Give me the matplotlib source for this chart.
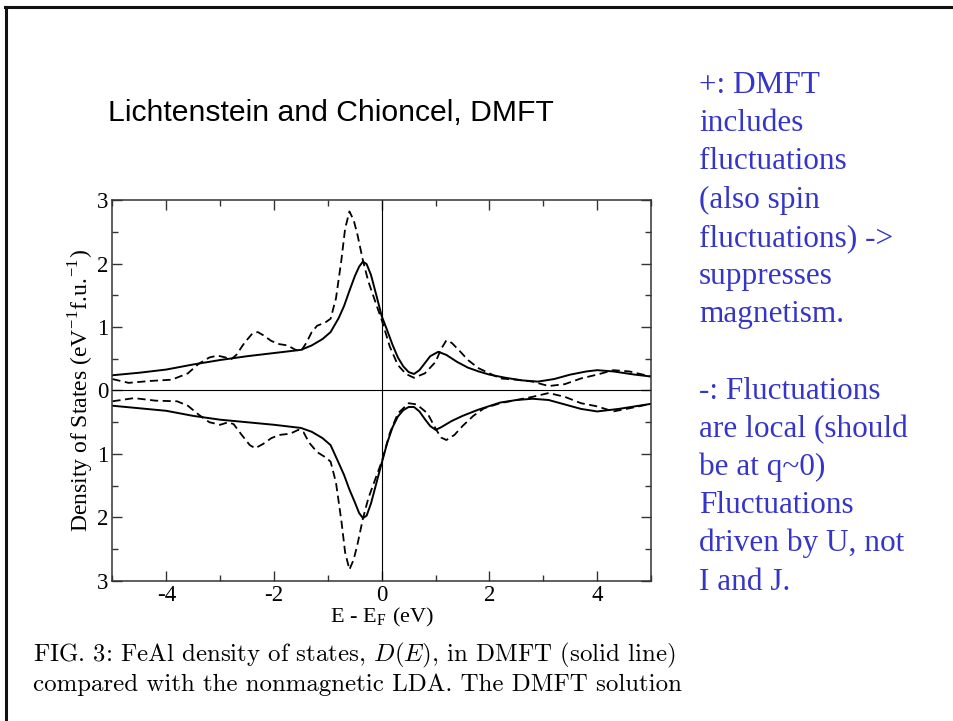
import matplotlib
matplotlib.use("Agg")
import matplotlib.pyplot as plt
from matplotlib.lines import Line2D
from matplotlib.ticker import MultipleLocator, FixedLocator, FixedFormatter

plt.rcParams["mathtext.fontset"] = "cm"
plt.rcParams["axes.unicode_minus"] = False

# ── data (spin-up positive, spin-down negative) ─────────────────────────────
E_dmft_up = [-5, -4.5, -4, -3.5, -3, -2.5, -2, -1.5, -1.3, -1.1, -0.95, -0.8, -0.7,
             -0.6, -0.5, -0.42, -0.35, -0.28, -0.2, -0.1, 0, 0.1, 0.2, 0.3, 0.4,
             0.5, 0.6, 0.7, 0.8, 0.9, 1.05, 1.2, 1.4, 1.6, 1.8, 2.0, 2.3, 2.6, 2.9,
             3.2, 3.5, 3.8, 4.0, 4.3, 4.7, 5]
D_dmft_up = [0.24, 0.28, 0.33, 0.41, 0.48, 0.54, 0.59, 0.64, 0.71, 0.81, 0.92, 1.14,
             1.33, 1.57, 1.80, 1.95, 2.03, 1.99, 1.82, 1.50, 1.17, 0.95, 0.72, 0.52,
             0.38, 0.29, 0.26, 0.32, 0.43, 0.54, 0.61, 0.56, 0.45, 0.36, 0.30, 0.25,
             0.20, 0.16, 0.14, 0.18, 0.25, 0.30, 0.32, 0.30, 0.25, 0.22]

E_lda_up = [-5, -4.7, -4.3, -3.9, -3.6, -3.4, -3.2, -3.05, -2.9, -2.8, -2.7, -2.55,
            -2.4, -2.3, -2.2, -2.05, -1.9, -1.75, -1.6, -1.5, -1.4, -1.3, -1.2, -1.05,
            -0.95, -0.85, -0.75, -0.68, -0.6, -0.52, -0.45, -0.35, -0.25, -0.1, 0,
            0.15, 0.3, 0.45, 0.6, 0.8, 1.0, 1.1, 1.2, 1.3, 1.45, 1.6, 1.8, 2.0, 2.2,
            2.5, 2.8, 3.1, 3.4, 3.7, 4.0, 4.3, 4.6, 5]
D_lda_up = [0.18, 0.12, 0.15, 0.17, 0.27, 0.42, 0.52, 0.55, 0.52, 0.49, 0.56, 0.75,
            0.90, 0.92, 0.87, 0.78, 0.73, 0.71, 0.64, 0.62, 0.75, 0.92, 1.02, 1.07,
            1.13, 1.45, 2.05, 2.55, 2.82, 2.68, 2.45, 2.05, 1.72, 1.35, 1.11, 0.69,
            0.40, 0.26, 0.20, 0.27, 0.45, 0.65, 0.79, 0.75, 0.62, 0.48, 0.35, 0.27,
            0.19, 0.17, 0.14, 0.07, 0.10, 0.19, 0.25, 0.32, 0.30, 0.22]

E_dmft_dn = [-5, -4.5, -4, -3.5, -3, -2.5, -2, -1.5, -1.3, -1.1, -0.95, -0.8, -0.7,
             -0.6, -0.5, -0.42, -0.35, -0.28, -0.2, -0.1, 0, 0.1, 0.2, 0.3, 0.4, 0.5,
             0.6, 0.7, 0.8, 0.9, 1.0, 1.1, 1.3, 1.5, 1.8, 2.2, 2.5, 2.8, 3.1, 3.4,
             3.7, 4.0, 4.4, 4.7, 5]
D_dmft_dn = [-0.24, -0.28, -0.32, -0.40, -0.46, -0.50, -0.54, -0.59, -0.65, -0.75,
             -0.86, -1.14, -1.33, -1.56, -1.76, -1.93, -2.01, -1.97, -1.78, -1.46,
             -1.14, -0.83, -0.58, -0.41, -0.31, -0.26, -0.26, -0.33, -0.45, -0.56,
             -0.62, -0.58, -0.48, -0.40, -0.30, -0.19, -0.15, -0.13, -0.15, -0.22,
             -0.29, -0.33, -0.29, -0.25, -0.21]

E_lda_dn = [-5, -4.6, -4.2, -3.8, -3.6, -3.4, -3.2, -3.0, -2.85, -2.75, -2.6, -2.45,
            -2.35, -2.2, -2.05, -1.9, -1.7, -1.55, -1.45, -1.35, -1.2, -1.05, -0.95,
            -0.85, -0.75, -0.68, -0.6, -0.52, -0.45, -0.35, -0.25, -0.1, 0, 0.15,
            0.3, 0.5, 0.65, 0.85, 1.0, 1.1, 1.2, 1.35, 1.5, 1.7, 1.9, 2.2, 2.5, 2.8,
            3.1, 3.4, 3.7, 4.0, 4.3, 4.6, 5]
D_lda_dn = [-0.17, -0.12, -0.16, -0.17, -0.24, -0.38, -0.50, -0.54, -0.50, -0.53,
            -0.70, -0.86, -0.91, -0.84, -0.75, -0.70, -0.68, -0.62, -0.66, -0.82,
            -0.97, -1.05, -1.12, -1.45, -2.05, -2.55, -2.82, -2.66, -2.42, -2.02,
            -1.70, -1.35, -1.12, -0.67, -0.36, -0.20, -0.22, -0.36, -0.60, -0.74,
            -0.78, -0.70, -0.56, -0.40, -0.28, -0.20, -0.15, -0.10, -0.04, -0.10,
            -0.20, -0.25, -0.33, -0.28, -0.21]

y_ticks = [-3, -2, -1, 0, 1, 2, 3]
y_tick_labels = ["3", "2", "1", "0", "1", "2", "3"]
x_ticks = [-4, -2, 0, 2, 4]

title_text = "Lichtenstein and Chioncel, DMFT"
note_lines = [
    "+: DMFT", "includes", "fluctuations", "(also spin", "fluctuations) ->",
    "suppresses", "magnetism.", "", "-: Fluctuations", "are local (should",
    "be at q~0)", "Fluctuations", "driven by U, not", "I and J.",
]
caption_lines = [
    r"FIG. 3: FeAl density of states, $D(E)$, in DMFT (solid line)",
    "compared with the nonmagnetic LDA. The DMFT solution",
]

SERIF = ["Liberation Serif", "DejaVu Serif"]
SANS = ["Liberation Sans", "DejaVu Sans"]
BLUE = "#3535c8"

fig = plt.figure(figsize=(9.54, 7.21), dpi=100)
ax = fig.add_axes([0.1179, 0.1942, 0.5645, 0.5284])

ax.plot(E_dmft_up, D_dmft_up, color="black", lw=1.4)
ax.plot(E_dmft_dn, D_dmft_dn, color="black", lw=1.4)
ax.plot(E_lda_up, D_lda_up, color="black", lw=1.3, ls=(0, (4.5, 2.5)))
ax.plot(E_lda_dn, D_lda_dn, color="black", lw=1.3, ls=(0, (4.5, 2.5)))
ax.axhline(0, color="black", lw=0.8)
ax.axvline(0, color="black", lw=0.8)

ax.set_xlim(-5, 5)
ax.set_ylim(-3, 3)
ax.xaxis.set_major_locator(FixedLocator(x_ticks))
ax.xaxis.set_minor_locator(MultipleLocator(1))
ax.yaxis.set_major_locator(FixedLocator(y_ticks))
ax.yaxis.set_major_formatter(FixedFormatter(y_tick_labels))
ax.yaxis.set_minor_locator(MultipleLocator(0.5))
ax.tick_params(which="both", direction="in", top=True, right=True,
               color="#333333", width=1.0)
ax.tick_params(which="major", length=7.5, labelsize=16.5, pad=3)
ax.tick_params(which="minor", length=4)
for lbl in ax.get_xticklabels() + ax.get_yticklabels():
    lbl.set_family(SERIF)
for sp in ax.spines.values():
    sp.set_color("#333333")
    sp.set_linewidth(1.1)

ax.set_xlabel(r"E - E$_\mathregular{F}$ (eV)", fontsize=16, family=SERIF, labelpad=0)
ax.set_ylabel(r"Density of States (eV$^\mathregular{-1}$f.u.$^\mathregular{-1}$)",
              fontsize=17, family=SERIF)
ax.yaxis.set_label_coords(-0.033, 0.5)

# slide title
fig.text(108 / 954, 1 - 121 / 721, title_text, fontsize=21.7, va="baseline",
         ha="left", family=SANS)

# blue bullet notes on the right
for i, line in enumerate(note_lines):
    fig.text(699 / 954, 1 - (93 + 38.2 * i) / 721, line, fontsize=22.5, color=BLUE,
             va="baseline", ha="left", family=SERIF)

# paper caption under the plot
for i, line in enumerate(caption_lines):
    fig.text(33 / 954, 1 - (655 + 30 * i) / 721, line, fontsize=17.9,
             va="center", ha="left", family=["cmr10"])

# slide frame (top and left edges)
fig.add_artist(Line2D([5 / 954, 1], [1 - 7 / 721, 1 - 7 / 721],
                      transform=fig.transFigure, color="#111111", lw=2.2))
fig.add_artist(Line2D([6 / 954, 6 / 954], [0, 1 - 7 / 721],
                      transform=fig.transFigure, color="#111111", lw=2.2))

fig.savefig("out.png", dpi=100)
